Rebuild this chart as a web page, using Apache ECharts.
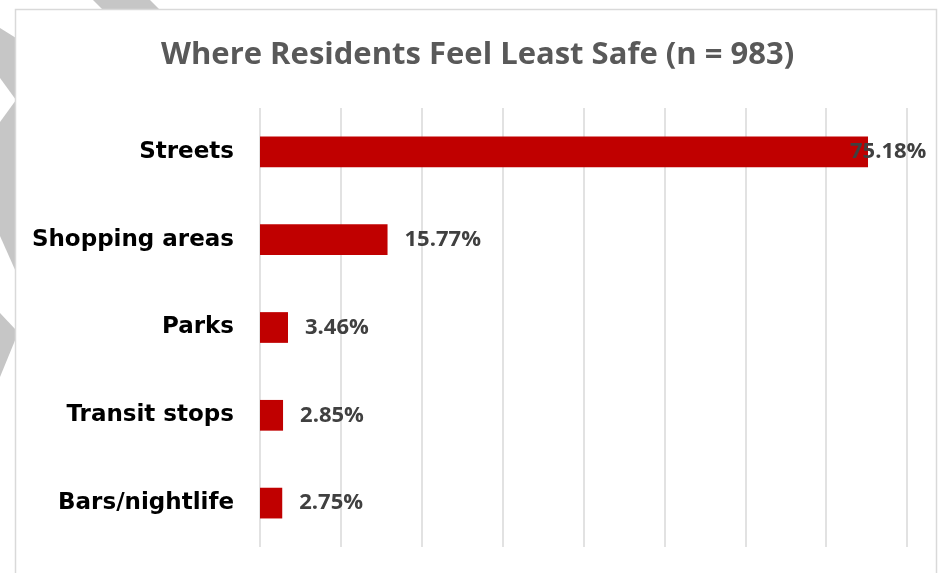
<!DOCTYPE html>
<html>
<head>
<meta charset="utf-8">
<style>
  html, body { margin: 0; padding: 0; background: #ffffff; }
  #chart { width: 944px; height: 573px; }
</style>
<script src="https://cdn.jsdelivr.net/npm/echarts@6/dist/echarts.min.js"></script>
</head>
<body>
<div id="chart"></div>
<script>
// Survey responses: location where residents feel least safe (percent of 983)
const categories = ['Streets', 'Shopping areas', 'Parks', 'Transit stops', 'Bars/nightlife'];
const shares = [75.18, 15.77, 3.46, 2.85, 2.75];

// Value axis ticks (percent)
const axisMin = 0;
const axisMax = 80;
const axisStep = 10;

const chart = echarts.init(document.getElementById('chart'), null, { renderer: 'canvas' });

const barData = shares.map(function (v, i) {
  const item = { value: v };
  if (i === 0) {
    // the longest bar's label is pulled back so it stays inside the frame
    item.label = { offset: [-35, 0] };
  }
  return item;
});

const decoFill = '#c6c6c6';

chart.setOption({
  backgroundColor: '#ffffff',
  animation: false,
  graphic: [
    // decorative diagonal bands behind the panel
    { type: 'polygon', z: -20, shape: { points: [[93, 0], [150, 0], [170, 20], [113, 20]] }, style: { fill: decoFill } },
    { type: 'polygon', z: -20, shape: { points: [[0, 28], [16, 38], [16, 100], [0, 78]] }, style: { fill: decoFill } },
    { type: 'polygon', z: -20, shape: { points: [[16, 100], [16, 272], [0, 236], [0, 122]] }, style: { fill: decoFill } },
    { type: 'polygon', z: -20, shape: { points: [[0, 313], [16, 330], [16, 338], [0, 377]] }, style: { fill: decoFill } },
    // white chart panel with light frame
    { type: 'rect', z: -10, shape: { x: 15.5, y: 9.5, width: 921, height: 600 },
      style: { fill: '#ffffff', stroke: '#d9d9d9', lineWidth: 1.5 } }
  ],
  title: {
    text: 'Where Residents Feel Least Safe (n = 983)',
    left: 156,
    top: 35,
    textStyle: {
      fontFamily: 'Open Sans',
      fontWeight: 'bold',
      fontSize: 31,
      color: '#595959'
    }
  },
  grid: {
    left: 260,
    right: 37,
    top: 108,
    bottom: 26,
    containLabel: false
  },
  xAxis: {
    type: 'value',
    min: axisMin,
    max: axisMax,
    interval: axisStep,
    axisLine: { show: false },
    axisTick: { show: false },
    axisLabel: { show: false },
    splitLine: { show: true, lineStyle: { color: '#d9d9d9', width: 1.5 } }
  },
  yAxis: {
    type: 'category',
    inverse: true,
    data: categories,
    axisLine: { show: false },
    axisTick: { show: false },
    axisLabel: {
      margin: 26,
      fontFamily: 'DejaVu Sans',
      fontWeight: 'bold',
      fontSize: 23,
      color: '#000000'
    }
  },
  series: [{
    type: 'bar',
    data: barData,
    barWidth: '35%',
    itemStyle: { color: '#c00000' },
    label: {
      show: true,
      position: 'right',
      distance: 17,
      formatter: function (p) { return p.value.toFixed(2) + '%'; },
      fontFamily: 'Open Sans',
      fontWeight: 'bold',
      fontSize: 22,
      color: '#404040'
    }
  }]
});
</script>
</body>
</html>
